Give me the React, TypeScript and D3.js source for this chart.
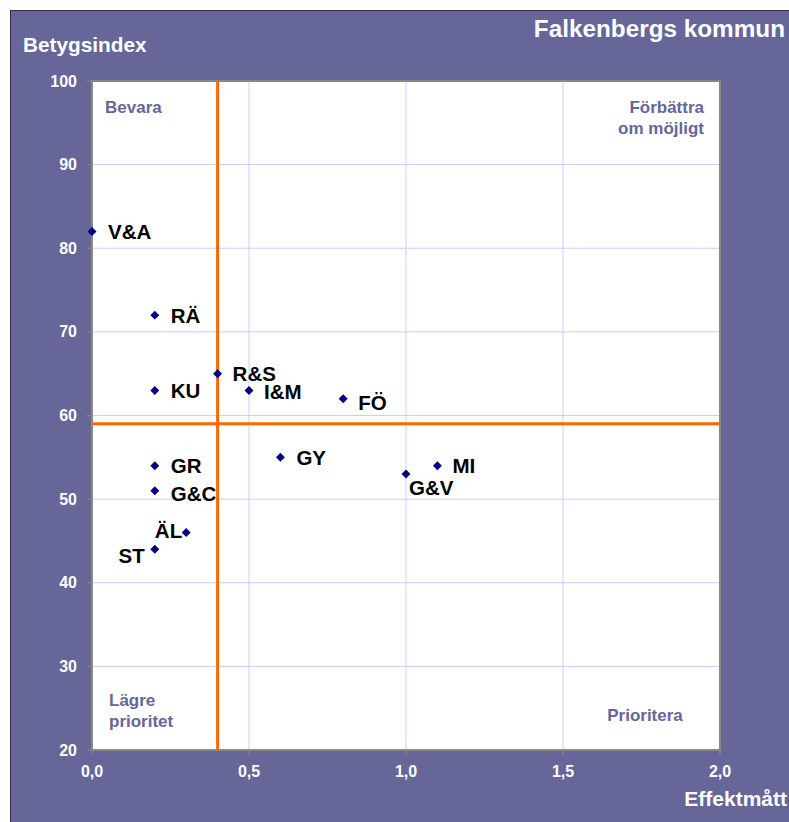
import React from "react";
import * as d3 from "d3";

const width = 789;
const height = 822;

// data
const labels = ["V&A", "RÄ", "KU", "R&S", "I&M", "FÖ", "GY", "G&V", "MI", "GR", "G&C", "ÄL", "ST"];
const effekt = [0, 0.2, 0.2, 0.4, 0.5, 0.8, 0.6, 1.0, 1.1, 0.2, 0.2, 0.3, 0.2];
const betyg = [82, 72, 63, 65, 63, 62, 55, 53, 54, 54, 51, 46, 44];
// label offsets relative to the marker [dx, dy, anchor]
const labelPos: [number, number, string][] = [
  [16, 0, "start"],
  [16, 0, "start"],
  [16, 0, "start"],
  [15, 0, "start"],
  [15, 1, "start"],
  [15, 4, "start"],
  [16, 0, "start"],
  [3, 14, "start"],
  [15, 0, "start"],
  [16, 0, "start"],
  [16, 3, "start"],
  [-4, -2, "end"],
  [-10, 6, "end"],
];

const xTicks = [0, 0.5, 1.0, 1.5, 2.0];
const yTicks = [20, 30, 40, 50, 60, 70, 80, 90, 100];
const xCut = 0.4;
const yCut = 59;

const margin = { left: 92, top: 81, right: 720, bottom: 750 };
const purple = "#666699";
const font = "Arial, 'Liberation Sans', sans-serif";

const App = () => {
  const x = d3.scaleLinear().domain([0, 2]).range([margin.left, margin.right]);
  const y = d3.scaleLinear().domain([20, 100]).range([margin.bottom, margin.top]);
  const fmt = (v: number) => d3.format(".1f")(v).replace(".", ",");
  const diamond = d3.symbol().type(d3.symbolSquare).size(40)();

  return (
    <svg
      width={width}
      height={height}
      style={{ display: "block", position: "absolute", left: 0, top: 0, fontFamily: font }}
    >
      <rect x={0} y={0} width={width} height={height} fill="white" />
      <rect x={10} y={10} width={width - 10} height={height - 10} fill={purple} />
      <line x1={10} y1={10.5} x2={width} y2={10.5} stroke="#333" strokeWidth={1} />
      <line x1={10.5} y1={10} x2={10.5} y2={height} stroke="#333" strokeWidth={1} />

      <text x={785} y={37} textAnchor="end" fill="white" fontWeight="bold" fontSize={24.3}>
        Falkenbergs kommun
      </text>
      <text x={23} y={52} fill="white" fontWeight="bold" fontSize={20.8}>
        Betygsindex
      </text>
      <text x={787} y={806} textAnchor="end" fill="white" fontWeight="bold" fontSize={21}>
        Effektmått
      </text>

      <rect
        x={margin.left}
        y={margin.top}
        width={margin.right - margin.left}
        height={margin.bottom - margin.top}
        fill="white"
      />

      {xTicks.slice(1, -1).map((t) => (
        <line key={"gx" + t} x1={x(t)} x2={x(t)} y1={margin.top} y2={margin.bottom} stroke="#ccccff" strokeWidth={1} />
      ))}
      {yTicks.slice(1, -1).map((t) => (
        <line key={"gy" + t} x1={margin.left} x2={margin.right} y1={y(t)} y2={y(t)} stroke="#ccccff" strokeWidth={1} />
      ))}

      <rect
        x={margin.left}
        y={margin.top}
        width={margin.right - margin.left}
        height={margin.bottom - margin.top}
        fill="none"
        stroke="#888"
        strokeWidth={2}
      />

      {yTicks.map((t) => (
        <g key={"ty" + t}>
          <line x1={margin.left - 5} x2={margin.left} y1={y(t)} y2={y(t)} stroke="#888" strokeWidth={1} />
          <text x={77} y={y(t)} dy="0.35em" textAnchor="end" fill="white" fontWeight="bold" fontSize={16}>
            {t}
          </text>
        </g>
      ))}
      {xTicks.map((t) => (
        <g key={"tx" + t}>
          <line x1={x(t)} x2={x(t)} y1={margin.bottom} y2={margin.bottom + 5} stroke="#888" strokeWidth={1} />
          <text x={x(t)} y={777} textAnchor="middle" fill="white" fontWeight="bold" fontSize={16}>
            {fmt(t)}
          </text>
        </g>
      ))}

      <line x1={x(xCut)} x2={x(xCut)} y1={margin.top} y2={margin.bottom} stroke="#ff6600" strokeWidth={3} />
      <line x1={margin.left} x2={margin.right} y1={y(yCut)} y2={y(yCut)} stroke="#ff6600" strokeWidth={3} />

      <g fill={purple} fontWeight="bold" fontSize={17}>
        <text x={105} y={113}>Bevara</text>
        <text x={704} y={113} textAnchor="end">Förbättra</text>
        <text x={704} y={134} textAnchor="end">om möjligt</text>
        <text x={109} y={706}>Lägre</text>
        <text x={109} y={727}>prioritet</text>
        <text x={645} y={721} textAnchor="middle">Prioritera</text>
      </g>

      {labels.map((name, i) => {
        const cx = x(effekt[i]);
        const cy = y(betyg[i]);
        const [dx, dy, anchor] = labelPos[i];
        return (
          <g key={name}>
            <path d={diamond ?? ""} transform={`translate(${cx},${cy}) rotate(45)`} fill="#000080" />
            <text
              x={cx + dx}
              y={cy + dy}
              dy="0.36em"
              textAnchor={anchor}
              fill="black"
              fontWeight="bold"
              fontSize={20.5}
            >
              {name}
            </text>
          </g>
        );
      })}
    </svg>
  );
};

export default App;
